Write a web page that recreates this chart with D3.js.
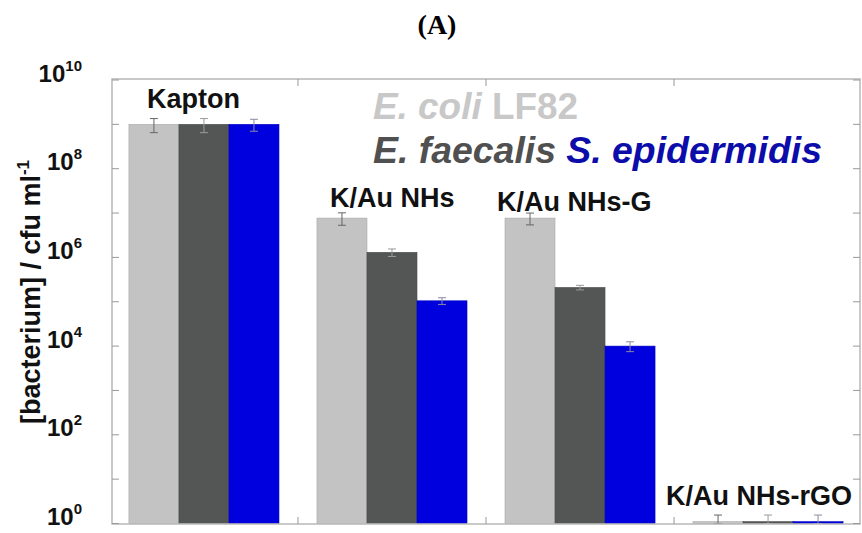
<!DOCTYPE html>
<html>
<head>
<meta charset="utf-8">
<script src="https://cdn.jsdelivr.net/npm/d3@7"></script>
<style>
  html, body { margin: 0; padding: 0; background: #fff; }
  svg { display: block; }
  text { font-family: "Liberation Sans", Arial, sans-serif; }
</style>
</head>
<body>
<svg id="chart" width="862" height="533"></svg>
<script>
// ---- data ----
const categories = ["Kapton", "K/Au NHs", "K/Au NHs-G", "K/Au NHs-rGO"];
const seriesNames = ["E. coli LF82", "E. faecalis", "S. epidermidis"];
const ecoliValues      = [1.0e9, 7.7e6, 7.7e6, 1.1];
const faecalisValues   = [1.0e9, 1.3e6, 2.1e5, 1.1];
const epidermidisValues= [1.0e9, 1.05e5, 1.0e4, 1.1];
const ecoliErrors      = [3.5e8, 2.4e6, 2.3e6, 0.45];
const faecalisErrors   = [3.5e8, 2.5e5, 2.5e4, 0.45];
const epidermidisErrors= [3.0e8, 1.8e4, 2.5e3, 0.45];
const tickExponents = [0, 1, 2, 3, 4, 5, 6, 7, 8, 9, 10];
const labelExponents = [0, 2, 4, 6, 8, 10];

// ---- styles / layout ----
const barColors = ["#c3c3c3", "#545656", "#0000de"];
const errColors = ["#666666", "#9a9a9a", "#8a8aa0"];
const legendColors = ["#c8c8c8", "#505050", "#0c0caa"];
const frame = { left: 112, right: 860, top: 79, bottom: 524 };
const labelOffsets = [[18, -16], [13, -11], [-8, -7.5], [-27, -17]];

const svg = d3.select("#chart");

const y = d3.scaleLog().domain([1, 1e10]).range([523.5, 80]).clamp(true);
const x = d3.scaleBand().domain(categories)
  .range([frame.left, frame.right]).paddingInner(0.202).paddingOuter(0.09);
const xs = d3.scaleBand().domain(seriesNames).range([0, x.bandwidth()]);

const valuesBySeries = [ecoliValues, faecalisValues, epidermidisValues];
const errorsBySeries = [ecoliErrors, faecalisErrors, epidermidisErrors];

const rows = [];
categories.forEach((c, ci) => {
  seriesNames.forEach((s, si) => {
    rows.push({ cat: c, ser: s, si, v: valuesBySeries[si][ci], e: errorsBySeries[si][ci] });
  });
});

// title
svg.append("text").attr("x", 437).attr("y", 34).attr("text-anchor", "middle")
  .style("font-family", "'Liberation Serif', 'Times New Roman', serif")
  .style("font-weight", "bold").style("font-size", "28px").text("(A)");

// bars
svg.append("g").selectAll("rect").data(rows).join("rect")
  .attr("x", d => x(d.cat) + xs(d.ser))
  .attr("width", xs.bandwidth())
  .attr("y", d => y(d.v))
  .attr("height", d => y(1) - y(d.v))
  .attr("fill", d => barColors[d.si])
  .attr("stroke", d => d3.color(barColors[d.si]).darker(0.4))
  .attr("stroke-width", 0.6);

// error bars
const eg = svg.append("g");
rows.forEach(d => {
  const cx = x(d.cat) + xs(d.ser) + xs.bandwidth() / 2;
  const y1 = y(d.v + d.e), y0 = y(Math.max(d.v - d.e, 1));
  const col = errColors[d.si];
  eg.append("line").attr("x1", cx).attr("x2", cx).attr("y1", y1).attr("y2", y0)
    .attr("stroke", col).attr("stroke-width", 1);
  [y1, y0].forEach(yy => eg.append("line").attr("x1", cx - 4).attr("x2", cx + 4)
    .attr("y1", yy).attr("y2", yy).attr("stroke", col).attr("stroke-width", 1));
});

// frame
svg.append("rect").attr("x", frame.left).attr("y", frame.top)
  .attr("width", frame.right - frame.left).attr("height", frame.bottom - frame.top)
  .attr("fill", "none").attr("stroke", "#b8b8b8").attr("stroke-width", 1.5);

// y ticks left & right
const tg = svg.append("g").attr("stroke", "#999").attr("stroke-width", 1);
tickExponents.forEach(p => {
  const yy = y(Math.pow(10, p));
  tg.append("line").attr("x1", frame.left).attr("x2", frame.left + 7).attr("y1", yy).attr("y2", yy);
  tg.append("line").attr("x1", frame.right - 7).attr("x2", frame.right).attr("y1", yy).attr("y2", yy);
});
// group boundary ticks top & bottom
categories.slice(1).forEach((c, i) => {
  const prevEnd = x(categories[i]) + x.bandwidth();
  const bx = (prevEnd + x(c)) / 2;
  tg.append("line").attr("x1", bx).attr("x2", bx).attr("y1", frame.top).attr("y2", frame.top + 7);
  tg.append("line").attr("x1", bx).attr("x2", bx).attr("y1", frame.bottom - 7).attr("y2", frame.bottom);
});

// y tick labels
labelExponents.forEach(p => {
  const t = svg.append("text").attr("x", 82).attr("y", y(Math.pow(10, p)) + 1.5)
    .attr("text-anchor", "end").style("font-weight", "bold").style("font-size", "24px")
    .attr("fill", "#111");
  t.append("tspan").text("10");
  t.append("tspan").attr("dy", -11).style("font-size", "15px").text(p);
});

// y axis title
const yt = svg.append("text")
  .attr("transform", "translate(40,292) rotate(-90)")
  .attr("text-anchor", "middle").style("font-weight", "bold").style("font-size", "27px")
  .attr("fill", "#111");
yt.append("tspan").text("[bacterium] / cfu ml");
yt.append("tspan").attr("dy", -11).style("font-size", "17px").text("-1");

// group labels
categories.forEach((c, ci) => {
  const top = d3.max(valuesBySeries, vs => vs[ci]);
  svg.append("text").attr("x", x(c) + labelOffsets[ci][0]).attr("y", y(top) + labelOffsets[ci][1])
    .style("font-weight", "bold").style("font-size", "27px").attr("fill", "#111").text(c);
});

// legend
const l1 = svg.append("text").attr("x", 373).attr("y", 119)
  .style("font-weight", "bold").style("font-size", "37px").attr("fill", legendColors[0])
  .attr("textLength", 205).attr("lengthAdjust", "spacingAndGlyphs");
l1.append("tspan").style("font-style", "italic").text("E. coli");
l1.append("tspan").text(" LF82");
const l2 = svg.append("text").attr("x", 373).attr("y", 163)
  .style("font-weight", "bold").style("font-size", "37px").style("font-style", "italic")
  .attr("textLength", 449).attr("lengthAdjust", "spacingAndGlyphs");
l2.append("tspan").attr("fill", legendColors[1]).text("E. faecalis ");
l2.append("tspan").attr("fill", legendColors[2]).text("S. epidermidis");
</script>
</body>
</html>
